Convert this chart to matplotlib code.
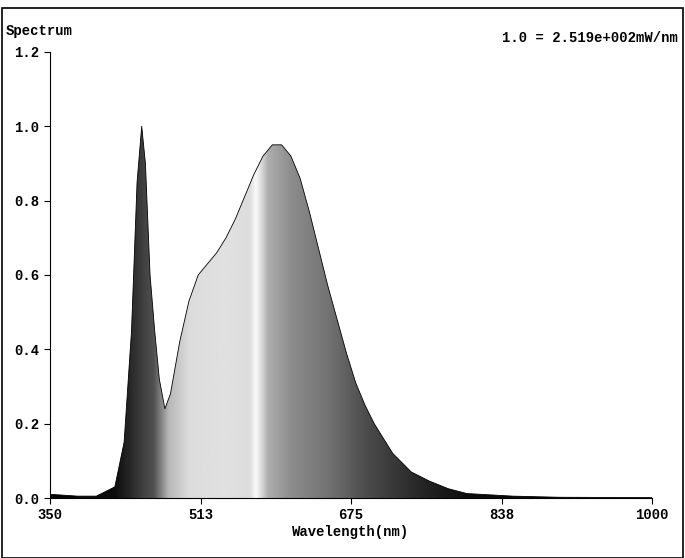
import numpy as np
import matplotlib.pyplot as plt
from matplotlib.patches import Rectangle

# spectrum (relative units)
wavelength = [350, 380, 400, 420, 430, 438, 444, 449, 453, 458, 463, 468, 474, 480, 490,
              500, 510, 520, 530, 540, 550, 560, 570, 580, 590, 600, 610, 620, 630, 640,
              650, 660, 670, 680, 690, 700, 720, 740, 760, 780, 800, 850, 900, 1000]
intensity = [0.01, 0.005, 0.005, 0.03, 0.15, 0.45, 0.85, 1.0, 0.9, 0.6, 0.45, 0.32, 0.24, 0.28, 0.42,
             0.53, 0.6, 0.63, 0.66, 0.7, 0.75, 0.81, 0.87, 0.92, 0.95, 0.95, 0.92, 0.86, 0.77, 0.67,
             0.57, 0.48, 0.39, 0.31, 0.25, 0.2, 0.12, 0.07, 0.045, 0.025, 0.012, 0.005, 0.002, 0.001]

# grey level of the fill as a function of wavelength
shade_wl = [350, 420, 450, 462, 478, 500, 540, 565, 572, 578, 585, 610, 650, 690, 750, 800, 1000]
shade = [0.0, 0.05, 0.25, 0.32, 0.72, 0.86, 0.88, 0.86, 0.98, 0.85, 0.68, 0.55, 0.45, 0.3, 0.15, 0.05, 0.0]

x_ticks = [350, 513, 675, 838, 1000]
y_ticks = [0.0, 0.2, 0.4, 0.6, 0.8, 1.0, 1.2]

mono = {"family": "Liberation Mono", "weight": "bold", "size": 10}

fig = plt.figure(figsize=(6.85, 5.58), dpi=100)
ax = fig.add_axes([0.073, 0.1075, 0.879, 0.7995])

xs = np.linspace(350, 1000, 1300)
g = np.interp(xs, shade_wl, shade)
img = ax.imshow(np.tile(g, (2, 1)), extent=[350, 1000, 0, 1.2], aspect="auto",
                cmap="gray", vmin=0, vmax=1, origin="lower", interpolation="bilinear")
poly = ax.fill_between(wavelength, intensity, 0, color="none")
img.set_clip_path(poly.get_paths()[0], transform=ax.transData)
ax.plot(wavelength, intensity, color="black", lw=0.6)

ax.set_xlim(350, 1000)
ax.set_ylim(0, 1.2)
ax.set_xticks(x_ticks)
ax.set_xticklabels([str(t) for t in x_ticks], fontdict=mono)
ax.set_yticks(y_ticks)
ax.set_yticklabels([f"{t:.1f}" for t in y_ticks], fontdict=mono)
ax.tick_params(direction="out", length=4)
for s in ["top", "right"]:
    ax.spines[s].set_visible(False)
ax.set_xlabel("Wavelength(nm)", fontdict=mono, labelpad=2)

fig.text(0.008, 0.938, "Spectrum", fontdict=mono)
fig.text(0.99, 0.925, "1.0 = 2.519e+002mW/nm", fontdict=mono, ha="right")
fig.patches.append(Rectangle((0.003, 0.0), 0.994, 0.985, transform=fig.transFigure,
                             fill=False, edgecolor="black", lw=1.2))

fig.savefig("out.png", dpi=100)
